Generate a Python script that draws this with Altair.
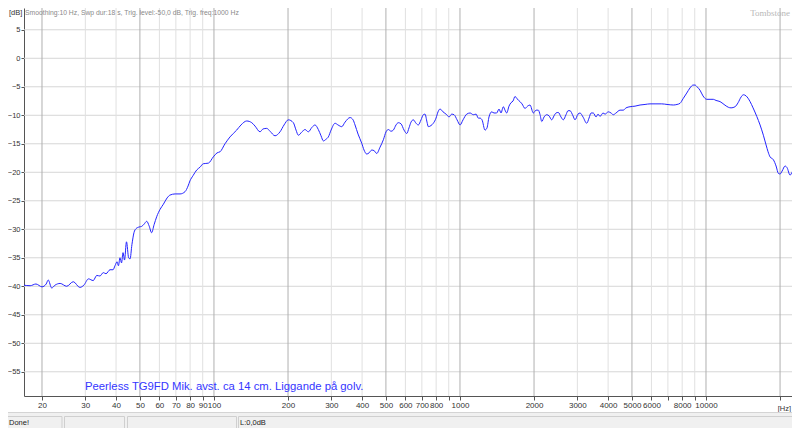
import altair as alt
import pandas as pd

# ---- data (frequency in Hz, level in dB) ----
FREQ = [16.8, 17.9, 18.9, 20.0, 20.8, 21.2, 21.9, 22.6, 23.7, 25.2, 26.8, 28.5, 29.6, 30.9,
        32.3, 33.4, 34.4, 35.5, 36.4, 37.8, 38.9, 39.6, 40.4, 40.9, 41.5, 42.1, 42.7, 43.3,
        44.1, 45.0, 45.6, 46.4, 47.3, 48.2, 49.6, 50.8, 52.0, 53.3, 54.5, 55.8, 57.1, 58.5,
        60.4, 62.3, 64.5, 66.3, 69.5, 72.8, 76.3, 78.5, 79.9, 82.2, 85.1, 87.8, 90.5, 94.9,
        99.4, 102.9, 105.9, 110.9, 116.2, 123.7, 128.8, 135.9, 142.4, 146.9, 153.9, 158.3,
        163.9, 169.0, 177.1, 185.6, 192.7, 200.6, 210.2, 215.6, 220.3, 228.0, 234.5, 241.9,
        250.4, 257.5, 265.6, 272.4, 278.4, 285.5, 291.7, 299.2, 310.6, 319.4, 330.7, 341.1,
        357.4, 367.6, 374.5, 385.2, 398.7, 407.4, 417.8, 426.9, 437.8, 447.4, 458.8, 473.2,
        488.1, 500.6, 511.5, 524.6, 535.9, 549.6, 561.5, 575.9, 592.4, 607.5, 620.7, 632.4,
        646.2, 662.7, 677.1, 694.5, 709.6, 721.0, 734.6, 743.6, 762.6, 779.2, 799.2, 814.3,
        829.7, 853.3, 883.4, 902.7, 925.7, 946.0, 973.0, 1001, 1029, 1065, 1099, 1133, 1163,
        1187, 1206, 1229, 1264, 1288, 1312, 1346, 1375, 1410, 1441, 1468, 1500, 1524, 1549,
        1582, 1612, 1643, 1674, 1705, 1754, 1787, 1838, 1882, 1926, 1987, 2038, 2082, 2116,
        2150, 2197, 2253, 2301, 2360, 2411, 2457, 2510, 2574, 2630, 2698, 2749, 2801, 2880,
        2935, 3018, 3076, 3163, 3275, 3346, 3409, 3483, 3573, 3640, 3709, 3815, 3887, 4009,
        4111, 4200, 4308, 4473, 4613, 4731, 4912, 5147, 5394, 5652, 5923, 6207, 6609, 6944,
        7366, 7626, 7843, 8067, 8351, 8611, 8857, 9024, 9194, 9454, 9723, 10070, 10385,
        10712, 10984, 11404, 11839, 12328, 12644, 13128, 13501, 13885, 14187, 14549, 15105,
        15535, 16083, 16587, 17107, 17545, 17876, 18216, 18787, 19268, 19686, 20003, 20379,
        20960, 21356, 21965, 22381, 22656, 23016, 23400]
DB = [-39.8, -39.9, -39.6, -40.1, -39.6, -38.9, -40.3, -39.8, -39.5, -40.0, -39.2, -40.2,
      -39.8, -38.7, -39.0, -38.1, -38.2, -37.6, -37.8, -37.1, -37.1, -36.4, -35.7, -36.4,
      -35.0, -35.9, -34.1, -35.4, -32.2, -35.0, -35.2, -32.7, -30.6, -29.9, -29.6, -29.5,
      -29.1, -28.6, -29.4, -30.6, -29.2, -27.8, -26.5, -25.6, -24.5, -24.0, -23.8, -23.8,
      -23.4, -22.4, -21.5, -20.6, -19.6, -19.1, -18.5, -18.4, -17.3, -16.6, -16.4, -15.0,
      -13.8, -12.6, -11.7, -11.0, -11.3, -11.9, -12.9, -12.4, -12.3, -12.8, -13.6, -12.9,
      -11.7, -10.8, -11.3, -12.6, -13.5, -12.9, -12.5, -12.9, -12.1, -11.7, -12.5, -13.6,
      -14.5, -14.2, -13.8, -12.6, -11.4, -11.7, -12.0, -11.2, -10.4, -10.8, -11.7, -13.3,
      -14.9, -16.1, -16.8, -16.6, -16.1, -16.2, -16.7, -15.6, -14.3, -12.9, -12.5, -12.8,
      -12.6, -11.7, -11.3, -11.5, -12.6, -13.2, -12.2, -11.2, -10.8, -11.4, -11.7, -10.8,
      -9.9, -9.8, -11.2, -12.0, -11.8, -11.4, -10.5, -9.4, -8.9, -9.4, -9.9, -10.3, -9.8,
      -9.9, -10.8, -11.7, -10.8, -9.8, -9.6, -9.9, -9.8, -10.5, -10.5, -10.8, -12.6, -12.2,
      -10.3, -9.4, -9.6, -9.6, -8.9, -9.6, -8.5, -9.1, -9.6, -8.4, -7.8, -7.5, -6.7, -7.1,
      -7.6, -8.0, -8.8, -8.4, -8.2, -9.6, -9.1, -9.1, -9.9, -11.1, -10.3, -9.9, -10.1,
      -10.8, -10.1, -9.6, -9.5, -10.3, -10.8, -9.9, -9.2, -9.2, -10.1, -10.8, -9.8, -9.6,
      -10.3, -11.4, -10.5, -9.6, -9.6, -10.3, -9.8, -10.2, -9.6, -9.8, -9.4, -9.6, -9.9,
      -9.6, -9.1, -9.1, -8.7, -8.5, -8.4, -8.2, -8.1, -8.0, -8.0, -8.0, -8.1, -8.2, -8.1,
      -7.9, -7.1, -6.1, -5.2, -4.7, -4.7, -5.0, -5.6, -6.6, -7.2, -7.2, -7.2, -7.4, -7.6,
      -8.1, -8.6, -8.7, -8.5, -7.8, -6.8, -6.4, -6.6, -7.6, -8.7, -10.2, -11.7, -13.5,
      -15.2, -16.4, -17.3, -17.8, -18.9, -20.2, -20.3, -19.8, -18.9, -19.2, -20.5, -20.0,
      -19.6, -20.6, -21.9]

XTICKS = [20, 30, 40, 50, 60, 70, 80, 90, 100, 200, 300, 400, 500, 600, 700, 800, 900,
          1000, 2000, 3000, 4000, 5000, 6000, 7000, 8000, 9000, 10000, 20000]
UNLABELED = [900, 7000, 9000, 20000]
GRID_MAJOR = [20, 50, 100, 200, 500, 1000, 2000, 5000, 10000, 20000]
GRID_MINOR = [30, 40, 60, 70, 80, 90, 300, 400, 600, 700, 800, 900, 3000, 4000, 6000,
              7000, 8000, 9000]
YTICKS = [-55, -50, -45, -40, -35, -30, -25, -20, -15, -10, -5, 0, 5]

HEADER = "Smoothing:10 Hz, Swp dur:18 s, Trig. level:-50,0 dB, Trig. freq:1000 Hz"
NOTE = "Peerless TG9FD Mik. avst. ca 14 cm. Liggande på golv."
BRAND = "Tombstone"
STATUS_LEFT = "Done!"
STATUS_LEVEL = "L:0,0dB"

FONT = "Liberation Sans"
W, H = 768, 388

xs = alt.Scale(type="log", domain=[16.90, 22365], nice=False)
ys = alt.Scale(domain=[-59.25, 8.82], nice=False, zero=False)

label_test = "indexof([" + ",".join(str(v) for v in UNLABELED) + "], datum.value) >= 0"
xaxis = alt.Axis(values=XTICKS, labelExpr=label_test + " ? '' : '' + datum.value",
                 title=None, grid=False, domainColor="#555", tickColor="#555",
                 tickSize=4, labelFont=FONT, labelFontSize=8, labelColor="#333",
                 labelPadding=1, labelFlush=False, labelOverlap=False)
yaxis = alt.Axis(values=YTICKS, title=None, grid=False, domainColor="#555",
                 tickColor="#555", tickSize=3, labelFont=FONT, labelFontSize=7.5,
                 labelColor="#333", labelPadding=1, labelFlush=False, labelOverlap=False)

curve_df = pd.DataFrame({"f": FREQ, "db": DB})

hgrid = alt.Chart(pd.DataFrame({"db": YTICKS})).mark_rule(
    color="#d6d6d6", strokeWidth=1).encode(y=alt.Y("db:Q", scale=ys, axis=yaxis))
vminor = alt.Chart(pd.DataFrame({"f": GRID_MINOR})).mark_rule(
    color="#e0e0e0", strokeWidth=1).encode(x=alt.X("f:Q", scale=xs, axis=xaxis))
vmajor = alt.Chart(pd.DataFrame({"f": GRID_MAJOR})).mark_rule(
    color="#b0b0b0", strokeWidth=1).encode(x=alt.X("f:Q", scale=xs, axis=xaxis))

curve = alt.Chart(curve_df).mark_line(color="#2424ff", strokeWidth=1, clip=True,
                                      interpolate="monotone").encode(
    x=alt.X("f:Q", scale=xs, axis=xaxis),
    y=alt.Y("db:Q", scale=ys, axis=yaxis),
    order="f:Q")


def label(text, x, y, size=8, color="#333", align="left", baseline="middle", font=FONT):
    return alt.Chart(pd.DataFrame({"t": [text]})).mark_text(
        align=align, baseline=baseline, fontSize=size, color=color, font=font).encode(
        text="t:N", x=alt.value(x), y=alt.value(y))


def box(x, x2, y, y2, fill, stroke=None):
    kw = {"fill": fill}
    if stroke:
        kw.update(stroke=stroke, strokeWidth=1)
    return alt.Chart(pd.DataFrame({"k": [0]})).mark_rect(**kw).encode(
        x=alt.value(x), x2=alt.value(x2), y=alt.value(y), y2=alt.value(y2))


texts = [
    label(HEADER, 1, 5, size=6.8, color="#8a8a8a"),
    label(BRAND, 766, 5, size=9, color="#b8b8b8", align="right", font="Liberation Serif"),
    label("[dB]", -15, 5, size=7.5, color="#333"),
    label("[Hz]", 767, 397, size=7.5, color="#333", align="right", baseline="top"),
    label(NOTE, 61, 379, size=11.3, color="#3535ff"),
]

status = [
    box(-16, 768, 404, 420, "#f0f0f0"),
    box(-16, 768, 404, 405, "#d4d4d4"),
    box(-23, 38, 408.5, 421, "#f0f0f0", "#cfcfcf"),
    box(40.5, 100.5, 408.5, 421, "#f0f0f0", "#cfcfcf"),
    box(103.5, 212.5, 408.5, 421, "#f0f0f0", "#cfcfcf"),
    box(214.5, 772, 408.5, 421, "#f0f0f0", "#cfcfcf"),
    label(STATUS_LEFT, -15, 414.5, size=7.5, color="#222"),
    label(STATUS_LEVEL, 216, 414.5, size=7.5, color="#222"),
]

chart = alt.layer(hgrid, vminor, vmajor, curve, *texts, *status).properties(
    width=W, height=H,
    autosize=alt.AutoSizeParams(type="none"),
    padding={"left": 16, "top": 0, "right": 0, "bottom": 32},
    background="white",
).configure_view(stroke=None)

chart.save("out.html", embed_options={"renderer": "svg", "actions": False})
